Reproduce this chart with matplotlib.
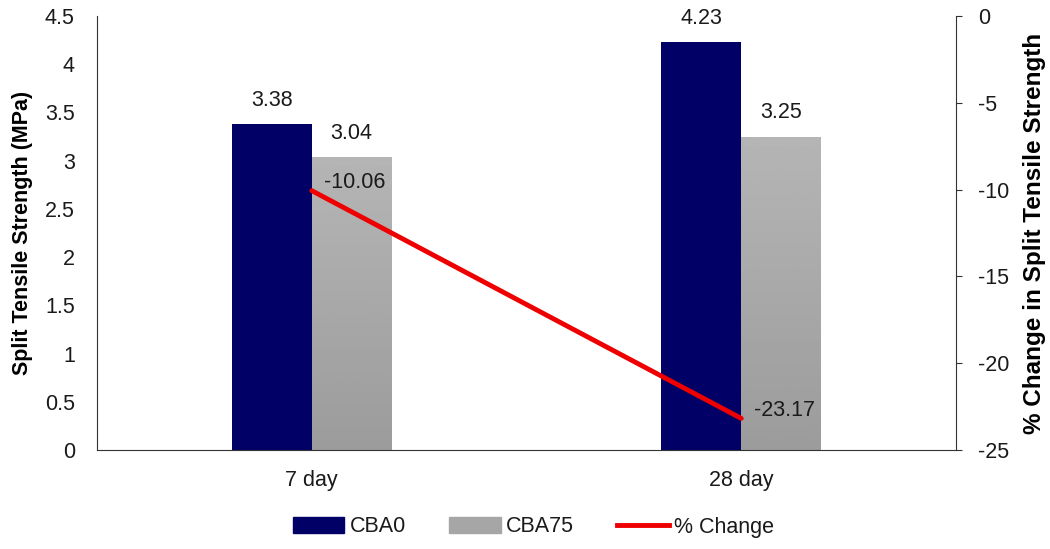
import numpy as np
import matplotlib.pyplot as plt
from matplotlib.lines import Line2D
from matplotlib.patches import Patch

plt.rcParams['font.family'] = ['Liberation Sans', 'DejaVu Sans']
plt.rcParams['axes.unicode_minus'] = False
plt.rcParams['text.color'] = "#1a1a1a"
plt.rcParams['xtick.color'] = "#1a1a1a"
plt.rcParams['ytick.color'] = "#1a1a1a"

# split tensile strength at 7 and 28 days
ages = ["7 day", "28 day"]
cba0 = [3.38, 4.23]
cba75 = [3.04, 3.25]
pct_change = [-10.06, -23.17]

navy = "#000066"
red = "#ee0000"
width = 0.186
fs = 15.5

fig, ax = plt.subplots(figsize=(10.5, 5.49), dpi=100)
fig.subplots_adjust(left=0.0924, right=0.9105, top=0.971, bottom=0.18)

x = np.arange(len(ages))
ax.bar(x - width / 2, cba0, width, color=navy, zorder=2)

# gray bars with a light-to-dark vertical gradient
grad = np.linspace(0.71, 0.61, 256).reshape(-1, 1)
for xi, h in zip(x, cba75):
    bar = ax.bar(xi + width / 2, h, width, color="none", zorder=2)[0]
    im = ax.imshow(grad, cmap="gray", vmin=0, vmax=1, aspect="auto",
                   extent=(xi, xi + width, 0, h), origin="upper", zorder=2)
    im.set_clip_path(bar)

for xi, v in zip(x, cba0):
    ax.annotate(f"{v:.2f}", (xi - width / 2, v), xytext=(0, 17), textcoords="offset points",
                ha="center", va="center", fontsize=fs)
for xi, v in zip(x, cba75):
    ax.annotate(f"{v:.2f}", (xi + width / 2, v), xytext=(0, 17), textcoords="offset points",
                ha="center", va="center", fontsize=fs)

ax.set_xlim(-0.5, 1.5)
ax.set_ylim(0, 4.5)
ax.set_yticks(np.arange(0, 4.51, 0.5))
ax.set_yticklabels(["0", "0.5", "1", "1.5", "2", "2.5", "3", "3.5", "4", "4.5"])
ax.set_xticks(x)
ax.set_xticklabels(ages)
ax.tick_params(axis="y", labelsize=fs, length=0, pad=16)
ax.tick_params(axis="x", labelsize=fs, length=0, pad=14)
ax.set_ylabel("Split Tensile Strength (MPa)", fontsize=15.5, fontweight="bold")
ax.yaxis.set_label_coords(-0.074, 0.5)
for s in ["top", "right"]:
    ax.spines[s].set_visible(False)
for s in ["left", "bottom"]:
    ax.spines[s].set_color("#333333")

ax2 = ax.twinx()
ax2.plot(x, pct_change, color=red, lw=3.5, solid_capstyle="round", zorder=3)
ax2.set_ylim(-25, 0)
ax2.set_yticks(np.arange(-25, 1, 5))
ax2.tick_params(axis="y", labelsize=fs, length=4, pad=12, color="#333333")
ax2.set_ylabel("% Change in Split Tensile Strength", fontsize=17.5, fontweight="bold")
ax2.yaxis.set_label_coords(1.078, 0.5)
for s in ["top", "left", "bottom"]:
    ax2.spines[s].set_visible(False)
ax2.spines["right"].set_color("#333333")
for xi, v in zip(x, pct_change):
    ax2.annotate(f"{v:.2f}", (xi, v), xytext=(9, 6), textcoords="offset points",
                 ha="left", va="center", fontsize=fs)

handles = [Patch(color=navy, label="CBA0"),
           Patch(color="#a6a6a6", label="CBA75"),
           Line2D([0], [0], color=red, lw=3.5, label="% Change")]
fig.legend(handles=handles, loc="center", ncol=3, frameon=False,
           fontsize=fs, bbox_to_anchor=(0.508, 1 - 527 / 549), handlelength=2.4,
           handleheight=0.75, columnspacing=2.0, handletextpad=0.25)

fig.savefig("out.png", dpi=100)
